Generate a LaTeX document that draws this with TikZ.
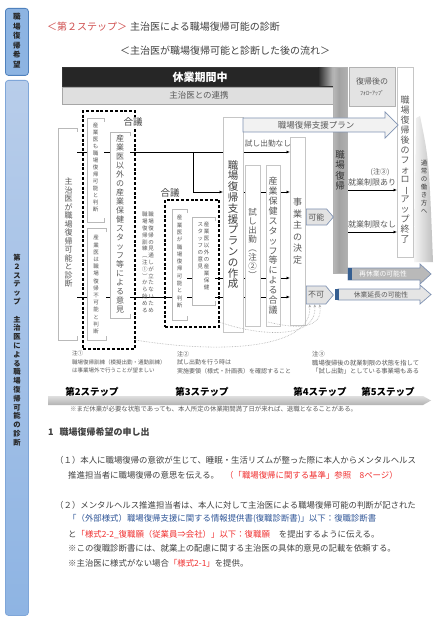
\documentclass[tikz,border=0pt]{standalone}
\usepackage{fontspec}
\setmainfont{Noto Sans CJK JP}
\usepackage{graphicx}
\usetikzlibrary{arrows.meta,shapes.symbols}
\pgfdeclarelayer{back}
\pgfdeclarelayer{lines}
\pgfsetlayers{back,lines,main}
\definecolor{txtgray}{HTML}{595959}
\definecolor{bodytxt}{HTML}{404040}
\definecolor{titlered}{HTML}{D05050}
\definecolor{bodyred}{HTML}{F03030}
\definecolor{bodyblue}{HTML}{2F5597}
\definecolor{sidetop}{HTML}{8DB4E2}
\definecolor{sidetopline}{HTML}{4F81BD}
\definecolor{sidebota}{HTML}{B8CDEA}
\definecolor{sidebotb}{HTML}{8EB4E3}
\definecolor{sidebotline}{HTML}{7FA6D8}
\definecolor{arrline}{HTML}{8093B3}
\definecolor{barblue}{HTML}{365F91}
\pgfdeclarehorizontalshading{colshade}{100bp}{color(0bp)=(gray!35); color(45bp)=(gray!72); color(80bp)=(gray!60); color(100bp)=(gray!35)}
\newcommand\fs[1]{\fontsize{#1}{#1}\selectfont}
\newdimen\vtw
\def\vtstop{\relax}
\def\vtstopm{\vtstop}
\def\vtloop#1{\def\vtarg{#1}\ifx\vtarg\vtstopm\else\hbox to\vtw{\hss#1\hss}\expandafter\vtloop\fi}
\newcommand\vt[2]{\vtop{\vtw=1em\baselineskip=#1pt\lineskip=0pt\lineskiplimit=-100pt\vtloop#2\vtstop}}
\newcommand\vbar{\rotatebox[origin=c]{-90}{ー}}
\newcommand\drawbrk[1]{\draw[brkline] ([yshift=-4pt]#1.north east) -- (#1.north east) -- (#1.north west) -- (#1.south west) -- (#1.south east) -- ([yshift=4pt]#1.south east);}
\begin{document}
\begin{tikzpicture}[x=1pt,y=-1pt,
 colbox/.style={draw=gray!45, fill=white, line width=0.5pt, inner sep=0pt, outer sep=0pt, anchor=north west},
 brk/.style={fill=white, inner sep=0pt, outer sep=0pt, anchor=north west},
 brkline/.style={draw=gray!55, line width=0.6pt},
 dashbox/.style={draw=black, dash pattern=on 3pt off 1.8pt, line width=1.1pt, inner sep=0pt, outer sep=0pt, anchor=north west},
 conn/.style={draw=black, line width=0.8pt},
 arr/.style={conn, -{Latex[length=3.5pt,width=3pt]}},
 vtxt/.style={inner sep=0pt, anchor=north, text=txtgray},
 lbl/.style={inner sep=0pt, text=txtgray},
 dotc/.style={draw=gray!65, densely dotted, line width=0.6pt, -{Stealth[length=3pt,width=2.6pt]}},
 sidea/.style={draw=sidetopline, fill=sidetop, rounded corners=3pt, line width=0.8pt, inner sep=0pt, anchor=north west},
 sideb/.style={draw=sidebotline, top color=sidebota, bottom color=sidebotb, rounded corners=3pt, line width=0.8pt, inner sep=0pt, anchor=north west},
 sig/.style={signal, signal to=east, signal pointer angle=100, draw=arrline, fill=gray!22, line width=0.7pt, inner sep=0pt, text=txtgray, font=\fs{8}},
 steplbl/.style={inner sep=0pt, font=\fs{9.5}\bfseries, text=black},
 body/.style={inner sep=0pt, anchor=west, font=\fs{8.4}, text=bodytxt},
 note/.style={inner sep=0pt, anchor=north west, align=left, text=txtgray},
]
\begin{pgfonlayer}{back}
\fill[white] (0,0) rectangle (446,628);
\end{pgfonlayer}
\useasboundingbox (0,0) rectangle (446,628);

% ---------- sidebar ----------
\node[sidea, minimum width=23, minimum height=67] (sb1) at (5,8) {};
\node[vtxt, text=black!85, font=\fs{7.5}\bfseries] at (sb1.north |- 0,13) {\vt{9.5}{職場復帰希望}};
\node[sideb, minimum width=23, minimum height=535] (sb2) at (5,80) {};
\node[vtxt, text=black!85, font=\fs{7.3}\bfseries] at (sb2.north |- 0,254) {\vt{8.8}{第２ステップ　主治医による職場復帰可能の診断}};

% ---------- titles ----------
\node[inner sep=0pt, anchor=west, font=\fs{10}, text=bodytxt] (title) at (47,27) {\textcolor{titlered}{＜第２ステップ＞}\hspace{3pt}主治医による職場復帰可能の診断};
\node[inner sep=0pt, font=\fs{10}, text=bodytxt] (subtitle) at (225,51) {＜主治医が職場復帰可能と診断した後の流れ＞};

% ---------- top bars ----------
\node[draw=black!80, fill=black!85, minimum width=271, minimum height=19, anchor=north west, inner sep=0pt] (kyugyo) at (62,67) {};
\fill[left color=black!85, right color=gray!55] (318,67.4) rectangle (333,85.6);
\node[text=white, font=\fs{11}\bfseries, inner sep=0pt] at (200,77) {休業期間中};
\node[draw=gray!70, fill=gray!25, minimum width=271, minimum height=17, anchor=north west, inner sep=0pt] (renkei) at (62,87) {};
\node[lbl, font=\fs{8.5}] at (199,95.5) {主治医との連携};

\node[shade, shading=colshade, draw=gray!60, minimum width=14, minimum height=206, anchor=north west, inner sep=0pt] (fukki) at (333,67) {};
\node[vtxt, text=black!80, font=\fs{9.5}] at (340,150) {\vt{10.5}{職場復帰}};

\node[draw=gray!60, fill=gray!22, minimum width=46, minimum height=39, anchor=north west, inner sep=0pt] (fu) at (349,67) {};
\node[lbl, font=\fontsize{8}{11}\selectfont, align=center] at (fu.center) {復帰後の\\{\fs{6}ﾌｫﾛｰｱｯﾌﾟ}};
\node[colbox, minimum width=16, minimum height=190] (fend) at (397,67) {};
\node[vtxt, font=\fs{9}] at (405,96) {\vt{9.9}{職場復帰後のフォロ\vbar アップ終了}};

\path[left color=gray!8, right color=gray!50] (414,262) -- (416,118) -- (420,116) .. controls (429,160) .. (433,262) -- cycle;
\node[vtxt, text=bodytxt, font=\fs{6.5}] at (424,160) {\vt{8}{通常の働き方へ}};

% ---------- boxes ----------
\node[brk, minimum width=19, minimum height=212] (shujii) at (58,128) {};
\node[brk, minimum width=17, minimum height=104] (b1) at (87,118) {};
\node[brk, minimum width=19, minimum height=112] (b2) at (87,228) {};
\node[brk, minimum width=20, minimum height=186] (b3) at (110,132) {};
\node[dashbox, minimum width=52, minimum height=238] (dash1) at (83,111) {};
\node[dashbox, minimum width=54, minimum height=127] (dash2) at (165,200) {};
\node[brk, minimum width=15, minimum height=111] (c1) at (172,209) {};
\node[brk, minimum width=23, minimum height=88] (c2) at (192,217) {};
\node[colbox, minimum width=20, minimum height=215] (plan) at (223,117) {};
\node[colbox, minimum width=15, minimum height=161] (trial) at (245,165) {};
\node[colbox, minimum width=14, minimum height=161] (staff) at (266,165) {};
\node[colbox, minimum width=15, minimum height=188] (jigyo) at (290,137) {};
\drawbrk{shujii}
\drawbrk{b1}
\drawbrk{b2}
\drawbrk{b3}
\drawbrk{c1}
\drawbrk{c2}

% ---------- connectors (below boxes) ----------
\coordinate (yA) at (0,152);
\coordinate (yB) at (0,192);
\coordinate (yC) at (0,278);
\coordinate (yD) at (0,297);
\coordinate (br) at (193,152);
\begin{pgfonlayer}{lines}
\draw[conn] (shujii.east |- yA) -- (plan.west |- yA);
\draw[arr] (plan.east |- yA) -- (jigyo.west |- yA);
\draw[arr] (br) -- (br |- yB) -- (plan.west |- yB);
\draw[arr] (plan.east |- yB) -- (jigyo.west |- yB);
\draw[conn] (c1.east |- yC) -- (plan.west |- yC);
\draw[arr] (plan.east |- yC) -- (jigyo.west |- yC);
\draw[conn] (shujii.east |- yD) -- (plan.west |- yD);
\draw[arr] (plan.east |- yD) -- (jigyo.west |- yD);
\draw[arr] (fukki.east |- 0,190) -- (fend.west |- 0,190);
\draw[arr] (fukki.east |- 0,232) -- (fend.west |- 0,232);
\end{pgfonlayer}

% ---------- box texts ----------
\node[vtxt, font=\fs{8}] at (68.5,178) {\vt{8.5}{主治医が職場復帰可能と診断}};
\node[vtxt, font=\fs{5.5}] at (95.5,123) {\vt{7}{産業医も職場復帰可能と判断}};
\node[vtxt, font=\fs{5.5}] at (96,235) {\vt{7.2}{産業医は職場復帰不可能と判断}};
\node[vtxt, font=\fs{8}] at (120,135) {\vt{9}{産業医以外の産業保健スタッフ等による意見}};
\node[vtxt, font=\fs{5.5}] at (148,212) {\hbox{\vt{6.8}{職場復帰訓練︵注①︶から始める}\hspace{0.6pt}\vt{6.8}{職場復帰の見通しが立たないため}}};
\node[vtxt, font=\fs{5.5}] at (179.5,215) {\vt{7.3}{産業医が職場復帰可能と判断}};
\node[vtxt, font=\fs{5.5}] at (203.5,222) {\hbox{\vt{7}{スタッフの意見}\hspace{0.6pt}\vt{7}{産業医以外の産業保健}}};
\node[vtxt, text=bodytxt, font=\fs{10.5}] at (233,160) {\vt{10.8}{職場復帰支援プランの作成}};
\node[vtxt, font=\fs{8.5}] at (252.5,208) {\vt{9}{試し出勤︵注②︶}};
\node[vtxt, font=\fs{9}] at (273,177) {\vt{9.9}{産業保健スタッフ等による合議}};
\node[vtxt, font=\fs{9}] at (297.5,198) {\vt{11.5}{事業主の決定}};

\node[inner sep=1pt, fill=white, font=\fs{9.5}, text=bodytxt] (gogi1) at (133,122) {合議};
\node[inner sep=0pt, font=\fs{9.5}, text=bodytxt] (gogi2) at (170,193) {合議};

% ---------- labels on arrows ----------
\node[lbl, font=\fs{7.7}] at (268,144) {試し出勤なし};
\node[lbl, font=\fs{7}] at (380,172) {(注③)};
\node[lbl, font=\fs{8}] at (372,182.5) {就業制限あり};
\node[lbl, font=\fs{8}] at (372,224) {就業制限なし};

% ---------- plan arrow ----------
\path[draw=arrline, fill=gray!10, line width=0.7pt] (243,118) -- (385,118) -- (385,112) -- (398,125) -- (385,138) -- (385,132) -- (243,132) -- cycle;
\node[lbl, font=\fs{8.5}] (planarrow) at (316,125) {職場復帰支援プラン};

% ---------- decision pentagons ----------
\node[sig, minimum width=27, minimum height=16, anchor=west] (kanou) at (306,217) {可能\hspace{5pt}};
\node[sig, minimum width=27, minimum height=18, anchor=west] (fuka) at (306,295) {不可\hspace{5pt}};

% ---------- result arrows ----------
\path[draw=arrline, fill=gray!55, line width=0.7pt] (348,268) -- (420,268) -- (420,264) -- (431,274) -- (420,284) -- (420,280) -- (348,280) -- cycle;
\fill[barblue] (348,268) rectangle (351.5,280);
\node[inner sep=0pt, font=\fs{6.8}, text=white] (saikyu) at (383,274) {再休業の可能性};
\path[draw=arrline, fill=gray!20, line width=0.7pt] (338,289) -- (420,289) -- (420,285) -- (431,294.5) -- (420,304) -- (420,300) -- (338,300) -- cycle;
\fill[barblue] (335,289) rectangle (338.5,300);
\node[inner sep=0pt, font=\fs{6.8}, text=txtgray] (encho) at (381,294.5) {休業延長の可能性};

% ---------- dotted return curves ----------
\coordinate (s1) at (135,340);
\coordinate (s2) at (219,322);
\coordinate (s3) at (268,322);
\draw[dotc] (s1) .. controls (235,356) and (313,345) .. ([xshift=-6.5pt]fuka.south);
\draw[dotc] (s2) .. controls (265,338) and (318,338) .. ([xshift=-1.5pt]fuka.south);
\draw[dotc] (s3) .. controls (300,330) and (323,328) .. ([xshift=3.5pt]fuka.south);

% ---------- notes ----------
\node[note, font=\fontsize{5.5}{8.5}\selectfont] (n1) at (72,351) {注①\\職場復帰訓練（模擬出勤・通勤訓練）\\は事業場外で行うことが望ましい};
\node[note, font=\fontsize{6}{8.5}\selectfont] (n2) at (177,351) {注②\\試し出勤を行う時は\\実施要領（様式・計画表）を確認すること};
\node[note, font=\fontsize{6.3}{8.5}\selectfont] (n3) at (312,351) {注③\\職場復帰後の就業制限の状態を指して\\「試し出勤」としている事業場もある};

% ---------- step bar ----------
\path[top color=gray!25, bottom color=gray!60] (48,396) -- (423,396) -- (431,400.5) -- (423,405) -- (48,405) -- cycle;
\node[steplbl] (st2) at (92,392) {第2ステップ};
\node[steplbl] (st3) at (202,392) {第3ステップ};
\node[steplbl] (st4) at (320,392) {第4ステップ};
\node[steplbl] (st5) at (388,392) {第5ステップ};
\node[inner sep=0pt, anchor=west, font=\fs{6.4}, text=txtgray] at (70,409) {※まだ休業が必要な状態であっても、本人所定の休業期間満了日が来れば、退職となることがある。};

% ---------- body text ----------
\node[body, font=\fs{9}\bfseries] at (48,432) {1\hspace{6pt}職場復帰希望の申し出};
\node[body] at (55,460) {（１）本人に職場復帰の意欲が生じて、睡眠・生活リズムが整った際に本人からメンタルヘルス};
\node[body] at (68,475) {推進担当者に職場復帰の意思を伝える。};
\node[body, text=bodyred] at (225,475) {（「職場復帰に関する基準」参照　8ページ）};
\node[body] at (55,505) {（２）メンタルヘルス推進担当者は、本人に対して主治医による職場復帰可能の判断が記された};
\node[body, text=bodyblue] at (68,519) {「（外部様式）職場復帰支援に関する情報提供書(復職診断書)」以下：復職診断書};
\node[body] at (68,534) {と\textcolor{bodyred}{「様式2-2\_復職願（従業員⇒会社）」以下：復職願}\hspace{9pt}を提出するように伝える。};
\node[body] at (68,548) {※この復職診断書には、就業上の配慮に関する主治医の具体的意見の記載を依頼する。};
\node[body] at (68,563) {※主治医に様式がない場合\textcolor{bodyred}{「様式2-1」}を提供。};
\end{tikzpicture}
\end{document}
